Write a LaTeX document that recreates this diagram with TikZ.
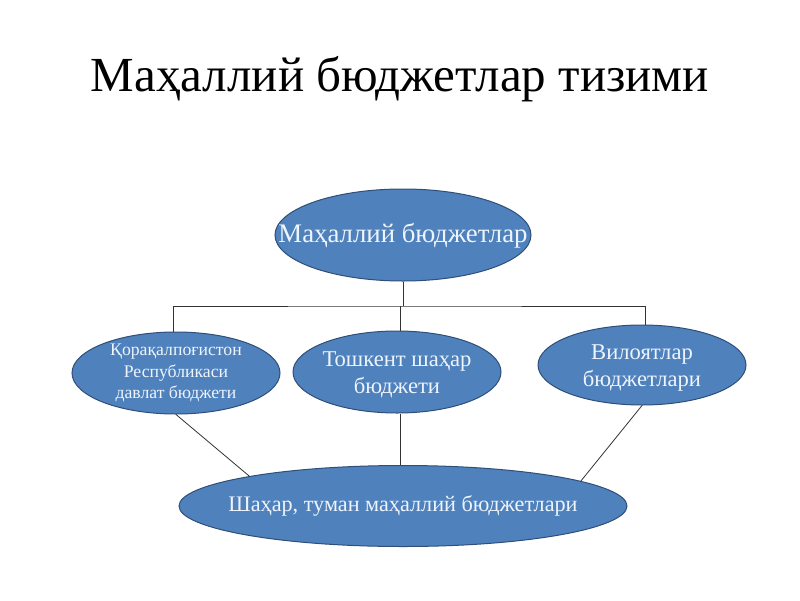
\documentclass[tikz,border=0pt]{standalone}
\usepackage{fontspec}
\setmainfont{Liberation Serif}
\usetikzlibrary{shapes.geometric}
\definecolor{ellfill}{HTML}{4F81BD}
\definecolor{elldraw}{HTML}{2F4E78}
\definecolor{elltext}{HTML}{EEF4FB}
\begin{document}
\begin{tikzpicture}[x=1pt,y=-1pt,
  ell/.style={ellipse,draw=elldraw,fill=ellfill,line width=1pt,inner sep=0pt},
  etext/.style={text=elltext,align=center,inner sep=0pt},
  conn/.style={draw=black!80,line width=0.8pt}]
\useasboundingbox (0,0) rectangle (800,600);
\node[font=\fontsize{49}{52}\selectfont] (title) at (400,79) {Маҳаллий бюджетлар тизими};
\node[ell,minimum width=256pt,minimum height=92pt,
  label={[etext,font=\fontsize{26.8}{30}\selectfont,yshift=-1pt]center:Маҳаллий бюджетлар}] (top) at (403,235) {};
\node[ell,minimum width=208pt,minimum height=82pt,
  label={[etext,font=\fontsize{17.7}{21.5}\selectfont]center:{Қорақалпоғистон\\Республикаси\\давлат бюджети}}] (left) at (176,373) {};
\node[ell,minimum width=208pt,minimum height=82pt,
  label={[etext,font=\fontsize{22.6}{27}\selectfont,yshift=-3pt]center:{Тошкент шаҳар\\бюджети}}] (mid) at (397,372) {};
\node[ell,minimum width=208pt,minimum height=80pt,
  label={[etext,font=\fontsize{22.6}{26.5}\selectfont,yshift=-3pt]center:{Вилоятлар\\бюджетлари}}] (right) at (642,365) {};
\node[ell,minimum width=448pt,minimum height=81pt,
  label={[etext,font=\fontsize{22.2}{26}\selectfont]center:Шаҳар, туман маҳаллий бюджетлари}] (bot) at (403,506) {};
\coordinate (j) at (400,306);
\draw[conn] (top.south) -- (top.south |- j);
\draw[conn] ([xshift=-3pt]left.north) |- (j) -| ([xshift=3pt]right.north);
\draw[conn] (mid.north -| j) -- (j);
\draw[conn] (left.south) -- (bot.169.3);
\draw[conn] (mid.south -| j) -- (bot.north -| j);
\draw[conn] (right.south) -- (bot.8.3);
\end{tikzpicture}
\end{document}
